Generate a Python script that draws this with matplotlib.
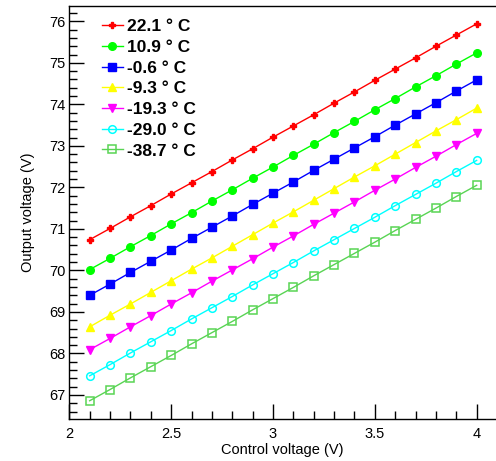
import numpy as np
from matplotlib import pyplot as plt
from matplotlib.ticker import MultipleLocator

plt.rcParams['font.family'] = ['Liberation Sans', 'DejaVu Sans']

control = [2.1, 2.2, 2.3, 2.4, 2.5, 2.6, 2.7, 2.8, 2.9, 3.0,
           3.1, 3.2, 3.3, 3.4, 3.5, 3.6, 3.7, 3.8, 3.9, 4.0]

v_22p1 = [70.74, 71.01, 71.29, 71.56, 71.84, 72.11, 72.38, 72.66, 72.93, 73.21,
          73.48, 73.75, 74.03, 74.30, 74.58, 74.85, 75.12, 75.40, 75.67, 75.94]
v_10p9 = [70.02, 70.29, 70.57, 70.84, 71.12, 71.39, 71.67, 71.94, 72.22, 72.49,
          72.77, 73.04, 73.32, 73.59, 73.87, 74.14, 74.42, 74.69, 74.97, 75.24]
v_m0p6 = [69.40, 69.67, 69.95, 70.22, 70.49, 70.77, 71.04, 71.31, 71.59, 71.86,
          72.13, 72.41, 72.68, 72.95, 73.22, 73.50, 73.77, 74.04, 74.32, 74.59]
v_m9p3 = [68.64, 68.92, 69.19, 69.47, 69.75, 70.03, 70.30, 70.58, 70.86, 71.14,
          71.41, 71.69, 71.97, 72.25, 72.52, 72.80, 73.08, 73.36, 73.63, 73.91]
v_m19p3 = [68.09, 68.36, 68.64, 68.91, 69.19, 69.46, 69.74, 70.01, 70.28, 70.56,
           70.83, 71.11, 71.38, 71.65, 71.93, 72.20, 72.48, 72.75, 73.03, 73.30]
v_m29p0 = [67.46, 67.73, 68.01, 68.28, 68.55, 68.83, 69.10, 69.37, 69.65, 69.92,
           70.19, 70.47, 70.74, 71.01, 71.28, 71.56, 71.83, 72.10, 72.38, 72.65]
v_m38p7 = [66.86, 67.13, 67.41, 67.68, 67.95, 68.23, 68.50, 68.77, 69.05, 69.32,
           69.59, 69.87, 70.14, 70.41, 70.68, 70.96, 71.23, 71.50, 71.78, 72.05]

labels = ['22.1 \u00b0 C', '10.9 \u00b0 C', '-0.6 \u00b0 C', '-9.3 \u00b0 C',
          '-19.3 \u00b0 C', '-29.0 \u00b0 C', '-38.7 \u00b0 C']
series = [v_22p1, v_10p9, v_m0p6, v_m9p3, v_m19p3, v_m29p0, v_m38p7]

# colour, marker, filled
styles = [('#ff0000', 'P', True),
          ('#00ff00', 'o', True),
          ('#0000ff', 's', True),
          ('#ffff00', '^', True),
          ('#ff00ff', 'v', True),
          ('#00ffff', 'o', False),
          ('#59d454', 's', False)]

fig = plt.figure(figsize=(4.96, 4.61), dpi=100)
ax = fig.add_axes([69.3 / 496, 1 - 419 / 461, 1 - 69.3 / 496, (419 - 6) / 461])

for vals, lab, (col, mk, filled) in zip(series, labels, styles):
    ax.plot(control, vals, color=col, lw=1, marker=mk, ms=5.5 if mk != 'P' else 5,
            mfc=col if filled else 'none', mec=col, mew=1 if filled else 1.1,
            label=lab)

ax.set_xlim(2, 4.095)
ax.set_ylim(66.42, 76.37)
ax.xaxis.set_major_locator(MultipleLocator(0.5))
ax.xaxis.set_minor_locator(MultipleLocator(0.1))
ax.yaxis.set_major_locator(MultipleLocator(1))
ax.yaxis.set_minor_locator(MultipleLocator(0.2))
ax.set_xticks([2, 2.5, 3, 3.5, 4], labels=['2', '2.5', '3', '3.5', '4'])

ax.tick_params(which='both', direction='in', top=False, right=False,
               labelsize=10.5, width=1)
ax.tick_params(which='major', length=11)
ax.tick_params(which='minor', length=5.5)
ax.tick_params(axis='x', pad=6)
ax.tick_params(axis='y', pad=3)
ax.spines['right'].set_visible(False)
for s in ['left', 'bottom', 'top']:
    ax.spines[s].set_linewidth(1)

ax.set_xlabel('Control voltage (V)', fontsize=10.5, labelpad=1)
ax.set_ylabel('Output voltage (V)', fontsize=10.5, labelpad=10)

leg = ax.legend(loc='upper left', bbox_to_anchor=(0.06, 0.985), frameon=False,
                prop={'weight': 'bold', 'size': 12.5}, handlelength=1.2,
                handletextpad=0.25, labelspacing=0.32, borderaxespad=0)

fig.savefig('out.png', dpi=100)
